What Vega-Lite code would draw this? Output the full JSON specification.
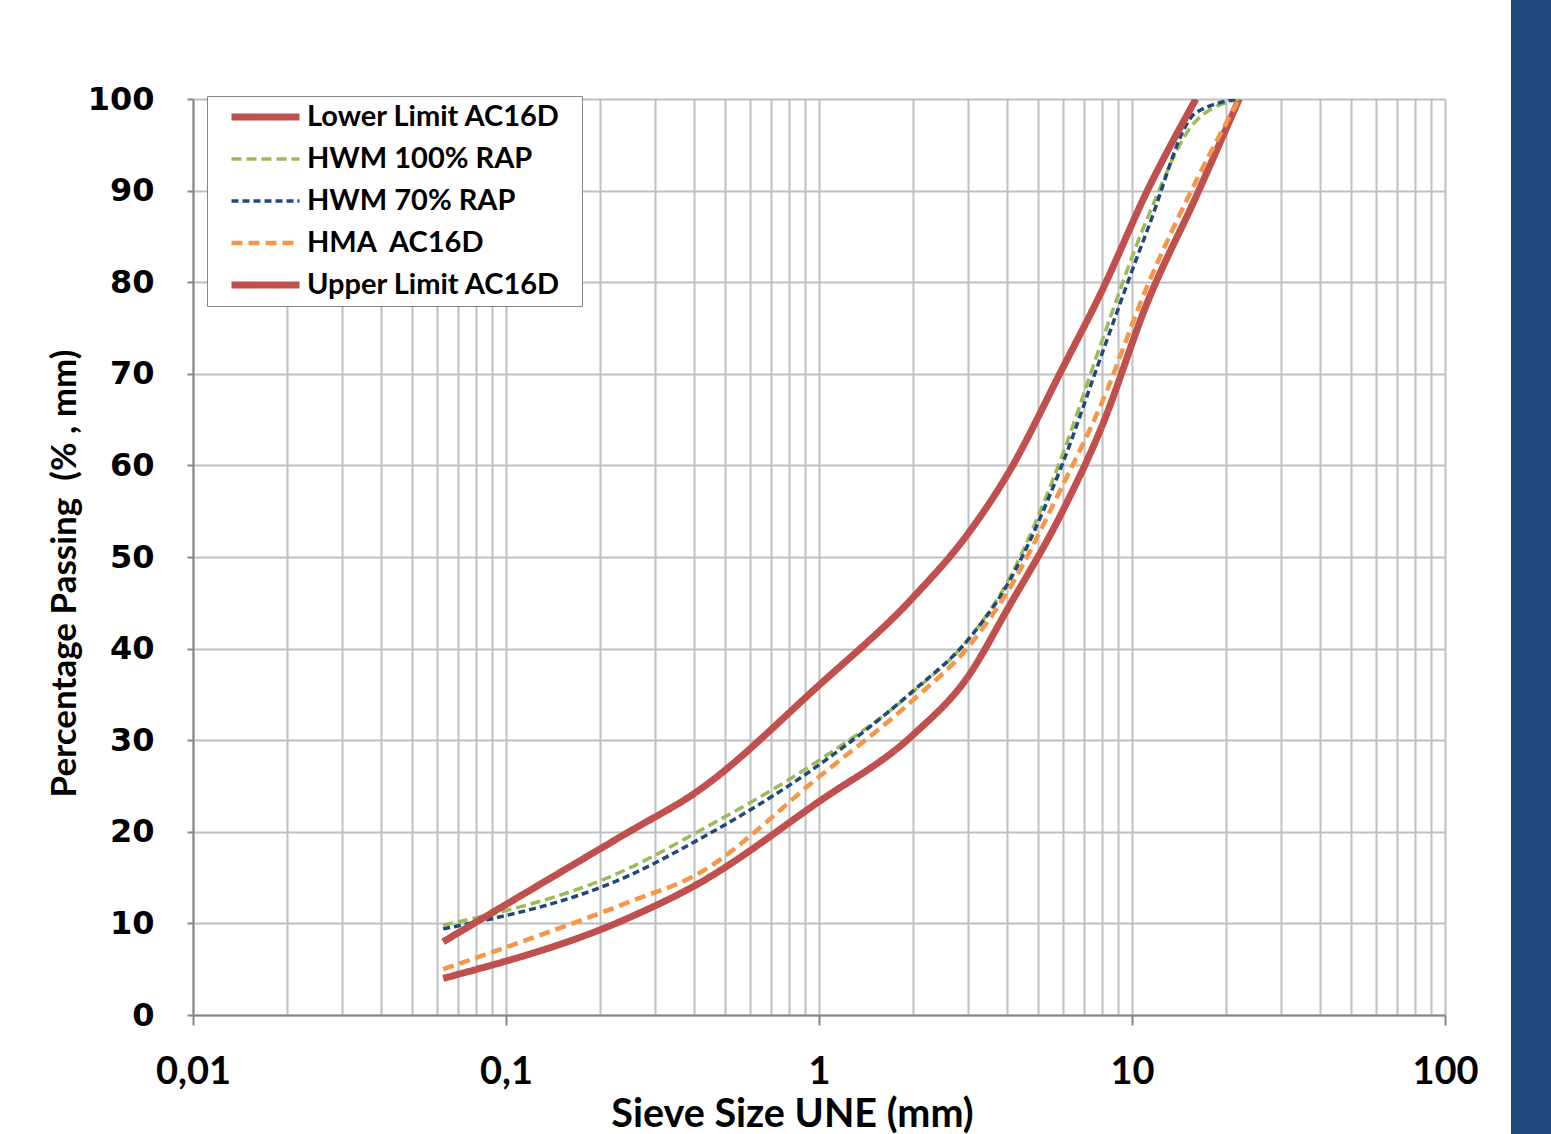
{
  "$schema": "https://vega.github.io/schema/vega-lite/v6.json",
  "background": "white",
  "padding": {"left": 47, "top": -20, "right": 0, "bottom": 0},
  "bounds": "flush",
  "center": true,
  "spacing": 66,
  "resolve": {"legend": {"color": "independent", "strokeDash": "independent", "strokeWidth": "independent"}},
  "hconcat": [
    {
      "width": 1252,
      "height": 916,
      "data": {"values": [
        {"series": "Lower Limit AC16D", "size": 0.063, "passing": 4},
        {"series": "Lower Limit AC16D", "size": 0.25, "passing": 10.7},
        {"series": "Lower Limit AC16D", "size": 0.4, "passing": 14.1},
        {"series": "Lower Limit AC16D", "size": 1, "passing": 23.3},
        {"series": "Lower Limit AC16D", "size": 2, "passing": 30.6},
        {"series": "Lower Limit AC16D", "size": 3, "passing": 37},
        {"series": "Lower Limit AC16D", "size": 4, "passing": 44.3},
        {"series": "Lower Limit AC16D", "size": 6, "passing": 55},
        {"series": "Lower Limit AC16D", "size": 8, "passing": 64.2},
        {"series": "Lower Limit AC16D", "size": 11.2, "passing": 77.8},
        {"series": "Lower Limit AC16D", "size": 16, "passing": 89.3},
        {"series": "Lower Limit AC16D", "size": 22, "passing": 100},
        {"series": "HWM 100% RAP", "size": 0.063, "passing": 9.8},
        {"series": "HWM 100% RAP", "size": 0.25, "passing": 16.1},
        {"series": "HWM 100% RAP", "size": 0.4, "passing": 19.8},
        {"series": "HWM 100% RAP", "size": 1, "passing": 27.8},
        {"series": "HWM 100% RAP", "size": 2, "passing": 35.3},
        {"series": "HWM 100% RAP", "size": 3, "passing": 41},
        {"series": "HWM 100% RAP", "size": 4, "passing": 47.3},
        {"series": "HWM 100% RAP", "size": 6, "passing": 61.2},
        {"series": "HWM 100% RAP", "size": 8, "passing": 73.5},
        {"series": "HWM 100% RAP", "size": 11.2, "passing": 87},
        {"series": "HWM 100% RAP", "size": 16, "passing": 97.6},
        {"series": "HWM 100% RAP", "size": 22, "passing": 100},
        {"series": "HWM 70% RAP", "size": 0.063, "passing": 9.4},
        {"series": "HWM 70% RAP", "size": 0.25, "passing": 15.3},
        {"series": "HWM 70% RAP", "size": 0.4, "passing": 18.9},
        {"series": "HWM 70% RAP", "size": 1, "passing": 27.3},
        {"series": "HWM 70% RAP", "size": 2, "passing": 35.4},
        {"series": "HWM 70% RAP", "size": 3, "passing": 41},
        {"series": "HWM 70% RAP", "size": 4, "passing": 47},
        {"series": "HWM 70% RAP", "size": 6, "passing": 60.2},
        {"series": "HWM 70% RAP", "size": 8, "passing": 72.1},
        {"series": "HWM 70% RAP", "size": 11.2, "passing": 85.7},
        {"series": "HWM 70% RAP", "size": 16, "passing": 98.5},
        {"series": "HWM 70% RAP", "size": 22, "passing": 100},
        {"series": "HMA AC16D", "size": 0.063, "passing": 5},
        {"series": "HMA AC16D", "size": 0.25, "passing": 12.4},
        {"series": "HMA AC16D", "size": 0.4, "passing": 15.2},
        {"series": "HMA AC16D", "size": 1, "passing": 26},
        {"series": "HMA AC16D", "size": 2, "passing": 34.4},
        {"series": "HMA AC16D", "size": 3, "passing": 40.2},
        {"series": "HMA AC16D", "size": 4, "passing": 46.2},
        {"series": "HMA AC16D", "size": 6, "passing": 57.8},
        {"series": "HMA AC16D", "size": 8, "passing": 66.8},
        {"series": "HMA AC16D", "size": 11.2, "passing": 79.6},
        {"series": "HMA AC16D", "size": 16, "passing": 91},
        {"series": "HMA AC16D", "size": 22, "passing": 100},
        {"series": "Upper Limit AC16D", "size": 0.063, "passing": 8},
        {"series": "Upper Limit AC16D", "size": 0.25, "passing": 20.1},
        {"series": "Upper Limit AC16D", "size": 0.4, "passing": 24.2},
        {"series": "Upper Limit AC16D", "size": 1, "passing": 36},
        {"series": "Upper Limit AC16D", "size": 2, "passing": 45.6},
        {"series": "Upper Limit AC16D", "size": 3, "passing": 52.6},
        {"series": "Upper Limit AC16D", "size": 4, "passing": 59},
        {"series": "Upper Limit AC16D", "size": 6, "passing": 70.6},
        {"series": "Upper Limit AC16D", "size": 8, "passing": 79},
        {"series": "Upper Limit AC16D", "size": 11.2, "passing": 90},
        {"series": "Upper Limit AC16D", "size": 16, "passing": 100}
      ]},
      "mark": {"type": "line", "interpolate": "monotone", "clip": true, "strokeCap": "butt"},
      "encoding": {
        "x": {
          "field": "size", "type": "quantitative",
          "scale": {"type": "log", "domain": [0.01, 100], "nice": false},
          "axis": {
            "values": [0.01,0.02,0.03,0.04,0.05,0.06,0.07,0.08,0.09,0.1,0.2,0.3,0.4,0.5,0.6,0.7,0.8,0.9,1,2,3,4,5,6,7,8,9,10,20,30,40,50,60,70,80,90,100],
            "labelExpr": "abs(log(datum.value)/LN10 - round(log(datum.value)/LN10)) < 0.001 ? replace(format(datum.value, '~g'), '.', ',') : ''",
            "tickOpacity": {"condition": {"test": "abs(log(datum.value)/LN10 - round(log(datum.value)/LN10)) < 0.001", "value": 1}, "value": 0},
            "tickSize": 10, "tickColor": "#868686", "tickWidth": 2,
            "labelFont": "Lato", "labelFontSize": 38, "labelFontWeight": "bold", "labelColor": "black",
            "labelPadding": 28, "labelFlush": false, "labelOverlap": false,
            "domainColor": "#868686", "domainWidth": 2,
            "gridColor": "#BFBFBF", "gridWidth": 2,
            "title": "Sieve Size UNE (mm)",
            "titleFont": "Lato", "titleFontSize": 39.5, "titleFontWeight": "bold", "titleColor": "black",
            "titleX": 599, "titleY": 80, "titleBaseline": "top", "titleAlign": "center"
          }
        },
        "y": {
          "field": "passing", "type": "quantitative",
          "scale": {"domain": [0, 100], "nice": false},
          "axis": {
            "values": [0,10,20,30,40,50,60,70,80,90,100],
            "labelFont": "DejaVu Sans", "labelFontSize": 32, "labelFontWeight": "bold", "labelColor": "black",
            "labelPadding": 33, "labelFlush": false, "labelOverlap": false,
            "tickSize": 6, "tickColor": "#868686", "tickWidth": 2,
            "domainColor": "#868686", "domainWidth": 2,
            "gridColor": "#BFBFBF", "gridWidth": 2,
            "title": "Percentage Passing\u00a0 (% , mm)",
            "titleFont": "Lato", "titleFontSize": 35, "titleFontWeight": "bold", "titleColor": "black",
            "titleX": -129, "titleY": 474, "titleAngle": -90, "titleBaseline": "middle", "titleAlign": "center"
          }
        },
        "color": {
          "field": "series", "type": "nominal",
          "scale": {"domain": ["Lower Limit AC16D", "HWM 100% RAP", "HWM 70% RAP", "HMA AC16D", "Upper Limit AC16D"],
                    "range": ["#C0504D", "#9BBB59", "#1F497D", "#F79646", "#C0504D"]},
          "legend": {"orient": "none", "legendX": 14, "legendY": -3, "title": null,
                     "labelExpr": "(datum.label == 'HMA AC16D' ? 'HMA\u00a0 AC16D' : datum.label) + '\u2800'"}
        },
        "strokeDash": {
          "field": "series", "type": "nominal",
          "scale": {"domain": ["Lower Limit AC16D", "HWM 100% RAP", "HWM 70% RAP", "HMA AC16D", "Upper Limit AC16D"],
                    "range": [[1, 0], [10, 5], [7, 4], [11, 6], [1, 0]]},
          "legend": {"orient": "none", "legendX": 14, "legendY": -3, "title": null,
                     "labelExpr": "(datum.label == 'HMA AC16D' ? 'HMA\u00a0 AC16D' : datum.label) + '\u2800'"}
        },
        "strokeWidth": {
          "field": "series", "type": "nominal",
          "scale": {"type": "ordinal", "domain": ["Lower Limit AC16D", "HWM 100% RAP", "HWM 70% RAP", "HMA AC16D", "Upper Limit AC16D"],
                    "range": [7, 3.5, 3.5, 4.5, 7]},
          "legend": {"orient": "none", "legendX": 14, "legendY": -3, "title": null,
                     "labelExpr": "(datum.label == 'HMA AC16D' ? 'HMA\u00a0 AC16D' : datum.label) + '\u2800'"}
        }
      }
    },
    {
      "width": 40,
      "height": 1154,
      "view": {"fill": "#1F497D", "stroke": null},
      "data": {"values": [{"k": 1}]},
      "mark": {"type": "point", "opacity": 0},
      "encoding": {}
    }
  ],
  "config": {
    "view": {"stroke": null},
    "legend": {
      "padding": 0,
      "strokeColor": "#868686",
      "fillColor": "white",
      "symbolType": "stroke",
      "symbolSize": 4624,
      "symbolOffset": 21,
      "labelOffset": 4,
      "clipHeight": 41.75,
      "rowPadding": 0,
      "labelFont": "Lato",
      "labelFontSize": 29,
      "labelFontWeight": "bold",
      "labelColor": "black",
      "labelLimit": 500
    }
  }
}
